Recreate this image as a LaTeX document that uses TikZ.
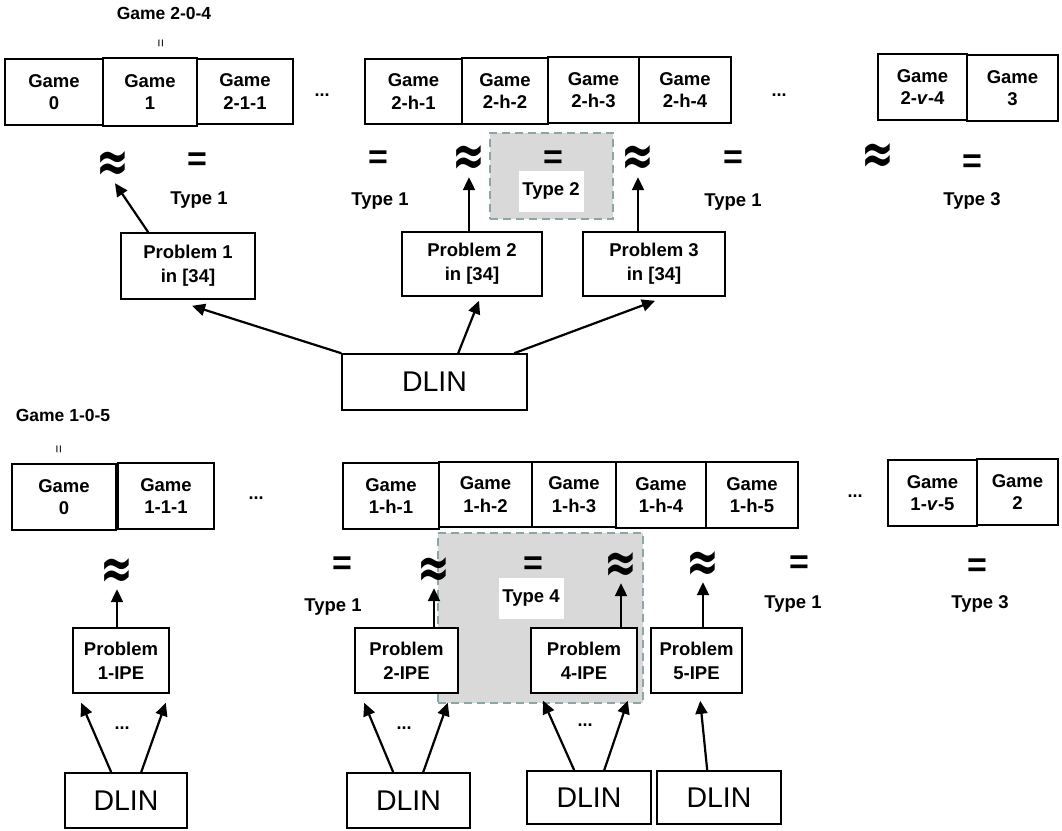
\documentclass[tikz,border=0pt]{standalone}
\usepackage{fontspec}
\setmainfont{Liberation Sans}
\newfontfamily\djv{DejaVu Sans}
\usetikzlibrary{arrows.meta,calc}
\definecolor{dashc}{RGB}{140,166,168}
\definecolor{regfill}{RGB}{217,217,217}
\newcommand{\apxsym}{\scalebox{1.35}[2.0]{≈}}
\begin{document}
\begin{tikzpicture}[x=1pt,y=-1pt,
  gbox/.style={draw, fill=white, line width=1.6pt, inner sep=0pt, align=center, font=\bfseries\fontsize{18.5}{22.5}\selectfont},
  pbox/.style={draw, fill=white, line width=1.6pt, inner sep=0pt, align=center, font=\bfseries\fontsize{18.5}{24}\selectfont},
  dbox/.style={draw, fill=white, line width=1.6pt, inner sep=0pt, font=\fontsize{28.5}{30}\selectfont},
  rel/.style={inner sep=0pt, font=\bfseries\fontsize{34}{34}\selectfont},
  apx/.style={inner sep=0pt, font=\djv\bfseries\fontsize{29}{29}\selectfont},
  typ/.style={inner sep=0pt, font=\bfseries\fontsize{18.5}{20}\selectfont},
  ttl/.style={inner sep=0pt, font=\bfseries\fontsize{17.5}{18}\selectfont},
  dotsty/.style={inner sep=0pt, font=\bfseries\fontsize{18}{18}\selectfont},
  wlab/.style={fill=white, inner sep=0pt, font=\bfseries\fontsize{18.5}{20}\selectfont},
  region/.style={fill=regfill, draw=dashc, line width=1.6pt, dash pattern=on 8pt off 5pt},
  arr/.style={-{Triangle[length=13pt,width=12pt]}, line width=2.2pt}
]
\path[use as bounding box] (0,0) rectangle (1062,830);

% ---------- top section ----------
\node[ttl] (title1) at (164,13) {Game 2-0-4};
\node[inner sep=0pt, rotate=90, font=\fontsize{14}{14}\selectfont] (eq1) at (162,43) {=};

\node[region, minimum width=123pt, minimum height=86pt] (reg1) at (551.5,176) {};

\node[gbox, minimum width=98pt, minimum height=66pt] (g0) at (54,92) {Game\\0};
\node[gbox, minimum width=94pt, minimum height=68pt] (g1) at (150,92) {Game\\1};
\node[gbox, minimum width=96pt, minimum height=65pt] (g211) at (245,91.5) {Game\\2-1-1};
\node[dotsty] (dt1) at (322,95) {...};
\node[gbox, minimum width=97pt, minimum height=65pt] (gh1) at (413.5,91.5) {Game\\2-h-1};
\node[gbox, minimum width=86pt, minimum height=66pt] (gh2) at (505,91) {Game\\2-h-2};
\node[gbox, minimum width=91pt, minimum height=66pt] (gh3) at (593.5,90) {Game\\2-h-3};
\node[gbox, minimum width=92pt, minimum height=66pt] (gh4) at (685,90) {Game\\2-h-4};
\node[dotsty] (dt2) at (779,95) {...};
\node[gbox, minimum width=89pt, minimum height=66pt] (gv4) at (922.5,87) {Game\\2-\textit{v}-4};
\node[gbox, minimum width=91pt, minimum height=66pt] (g3) at (1012.5,88) {Game\\3};

\node[apx] (ta1) at (113,167) {\apxsym};
\node[rel] (te1) at (197,162) {=};
\node[typ] (ty1) at (199,200) {Type 1};
\node[rel] (te2) at (378,160) {=};
\node[typ] (ty2) at (380,201) {Type 1};
\node[apx] (ta2) at (469,161) {\apxsym};
\node[rel] (te3) at (553,160) {=};
\node[wlab, minimum width=65pt, minimum height=41pt] (ty3) at (551,191) {Type 2};
\node[apx] (ta3) at (638,161) {\apxsym};
\node[rel] (te4) at (733,160) {=};
\node[typ] (ty4) at (733,202) {Type 1};
\node[apx] (ta4) at (878,159) {\apxsym};
\node[rel] (te5) at (972,164) {=};
\node[typ] (ty5) at (972,201) {Type 3};

\node[pbox, minimum width=134pt, minimum height=66pt] (p1) at (188,266) {Problem 1\\in [34]};
\node[pbox, minimum width=140pt, minimum height=64pt] (p2) at (472,264) {Problem 2\\in [34]};
\node[pbox, minimum width=142pt, minimum height=64pt] (p3) at (654,264) {Problem 3\\in [34]};
\node[dbox, minimum width=185pt, minimum height=56pt] (d1) at (434.5,382) {DLIN};

\draw[arr] ($(p1.north west)+(28,0)$) -- ($(ta1.south)+(2,1)$);
\draw[arr] (ta2.south |- p2.north) -- ($(ta2.south)+(0,1)$);
\draw[arr] (ta3.south |- p3.north) -- ($(ta3.south)+(0,1)$);
\draw[arr] (d1.north west) -- ($(p1.south)+(4,6)$);
\draw[arr] ($(d1.north west)+(117,0)$) -- ($(p2.south)+(7,4)$);
\draw[arr] ($(d1.north west)+(173,0)$) -- ($(p3.south)+(1,4)$);

% ---------- bottom section ----------
\node[ttl] (title2) at (63,415) {Game 1-0-5};
\node[inner sep=0pt, rotate=90, font=\fontsize{14}{14}\selectfont] (eq2) at (60,449) {=};

\node[region, minimum width=205pt, minimum height=170pt] (reg2) at (540.5,618) {};

\node[gbox, minimum width=104pt, minimum height=66pt] (b0) at (64,497) {Game\\0};
\node[gbox, minimum width=96pt, minimum height=66pt] (b111) at (166,496) {Game\\1-1-1};
\node[dotsty] (dt3) at (256,498) {...};
\node[gbox, minimum width=96pt, minimum height=66pt] (bh1) at (391,496) {Game\\1-h-1};
\node[gbox, minimum width=93pt, minimum height=65pt] (bh2) at (485.5,494.5) {Game\\1-h-2};
\node[gbox, minimum width=84pt, minimum height=65pt] (bh3) at (574,494.5) {Game\\1-h-3};
\node[gbox, minimum width=90pt, minimum height=66pt] (bh4) at (661,495) {Game\\1-h-4};
\node[gbox, minimum width=92pt, minimum height=66pt] (bh5) at (752,495) {Game\\1-h-5};
\node[dotsty] (dt4) at (855,496) {...};
\node[gbox, minimum width=89pt, minimum height=66pt] (bv5) at (932.5,493) {Game\\1-\textit{v}-5};
\node[gbox, minimum width=81pt, minimum height=66pt] (b2) at (1017.5,492) {Game\\2};

\node[apx] (ua1) at (117,573) {\apxsym};
\node[rel] (ue1) at (342,566) {=};
\node[typ] (uy1) at (333,607) {Type 1};
\node[apx] (ua2) at (434,572) {\apxsym};
\node[rel] (ue2) at (533,566) {=};
\node[wlab, minimum width=65pt, minimum height=41pt] (uy2) at (531,598) {Type 4};
\node[apx] (ua3) at (621,567) {\apxsym};
\node[apx] (ua4) at (703,566) {\apxsym};
\node[rel] (ue3) at (799,565) {=};
\node[typ] (uy3) at (793,604) {Type 1};
\node[rel] (ue4) at (977,568) {=};
\node[typ] (uy4) at (980,604) {Type 3};

\node[pbox, minimum width=96pt, minimum height=65pt] (q1) at (121,660.5) {Problem\\1-IPE};
\node[pbox, minimum width=103pt, minimum height=65pt] (q2) at (406.5,660.5) {Problem\\2-IPE};
\node[pbox, minimum width=106pt, minimum height=65pt] (q4) at (584,660.5) {Problem\\4-IPE};
\node[pbox, minimum width=91pt, minimum height=65pt] (q5) at (696.5,660.5) {Problem\\5-IPE};

\node[dbox, minimum width=122pt, minimum height=55pt] (e1) at (126,800.5) {DLIN};
\node[dbox, minimum width=123pt, minimum height=55pt] (e2) at (408.5,800.5) {DLIN};
\node[dbox, minimum width=124pt, minimum height=53pt] (e3) at (589,797.5) {DLIN};
\node[dbox, minimum width=124pt, minimum height=53pt] (e4) at (719,797.5) {DLIN};

\node[dotsty] (dt5) at (122,728) {...};
\node[dotsty] (dt6) at (404,728) {...};
\node[dotsty] (dt7) at (585,725) {...};

\draw[arr] (ua1.south |- q1.north) -- ($(ua1.south)+(0,1)$);
\draw[arr] (ua2.south |- q2.north) -- ($(ua2.south)+(0,1)$);
\draw[arr] (ua3.south |- q4.north) -- ($(ua3.south)+(0,1)$);
\draw[arr] (ua4.south |- q5.north) -- ($(ua4.south)+(0,1)$);

\draw[arr] ($(e1.north west)+(47,0)$) -- ($(q1.south west)+(9,9)$);
\draw[arr] ($(e1.north west)+(77,0)$) -- ($(q1.south east)+(-4,9)$);
\draw[arr] ($(e2.north west)+(47,0)$) -- ($(q2.south west)+(10,9)$);
\draw[arr] ($(e2.north west)+(77,0)$) -- ($(q2.south east)+(-11,9)$);
\draw[arr] ($(e3.north west)+(48,0)$) -- ($(q4.south west)+(13,7)$);
\draw[arr] ($(e3.north west)+(78,0)$) -- ($(q4.south east)+(-10,7)$);
\draw[arr] ($(e4.north west)+(51,0)$) -- ($(q5.south west)+(50,7)$);
\end{tikzpicture}
\end{document}
